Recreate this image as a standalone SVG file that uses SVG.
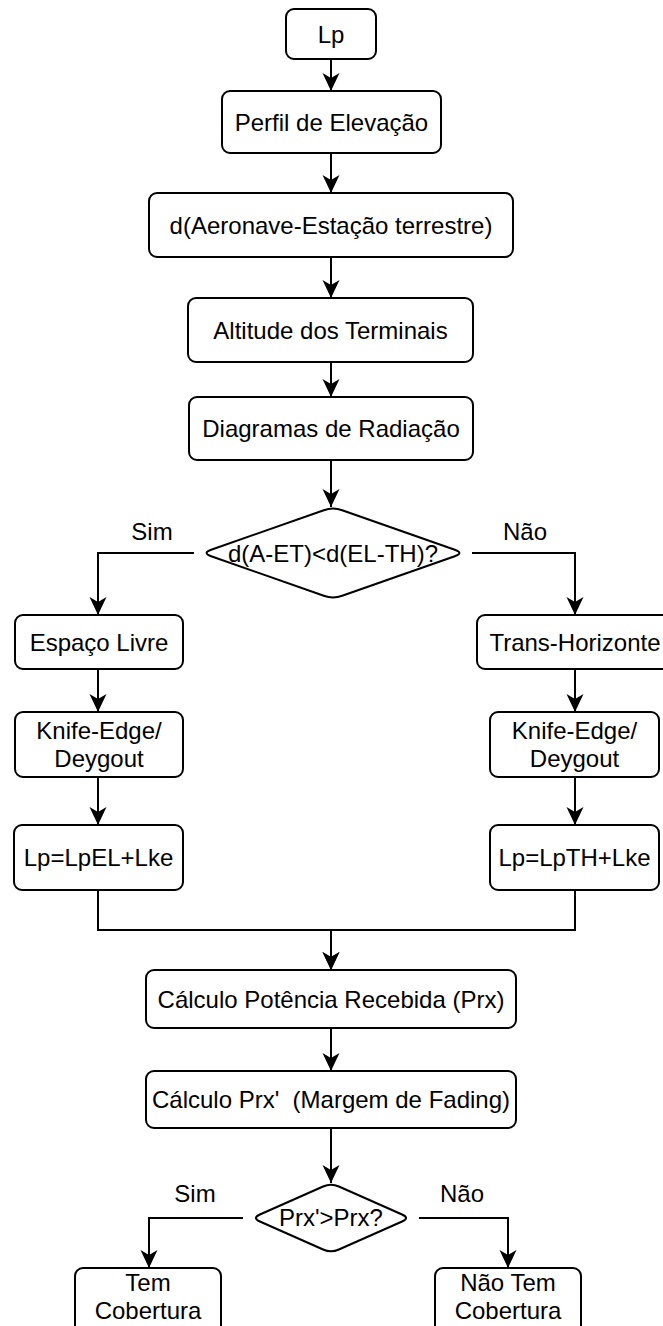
<svg xmlns="http://www.w3.org/2000/svg" width="663" height="1326" viewBox="0 0 663 1326">
<style>
.box{fill:#fff;stroke:#000;stroke-width:2}
.t{font-family:"Liberation Sans",Arial,sans-serif;font-size:24px;fill:#000;text-anchor:middle}
.e{fill:none;stroke:#000;stroke-width:2}
</style>
<defs>
<marker id="arr" markerUnits="userSpaceOnUse" viewBox="0 0 18 18" markerWidth="18" markerHeight="18" refX="18" refY="9" orient="auto">
<path d="M18,9 L0,0.5 L5,9 L0,17.5 Z" fill="#000"/>
</marker>
</defs>
<rect width="663" height="1326" fill="#fff"/>
<g id="connectors">
<path class="e" d="M331,59 V91" marker-end="url(#arr)"/>
<path class="e" d="M331,153 V193" marker-end="url(#arr)"/>
<path class="e" d="M331,257 V298" marker-end="url(#arr)"/>
<path class="e" d="M331,362 V397" marker-end="url(#arr)"/>
<path class="e" d="M331,460 V507" marker-end="url(#arr)"/>
<path class="e" d="M194,553 H98 V615" marker-end="url(#arr)"/>
<path class="e" d="M472,553 H575 V615" marker-end="url(#arr)"/>
<path class="e" d="M98,669 V712" marker-end="url(#arr)"/>
<path class="e" d="M575,669 V712" marker-end="url(#arr)"/>
<path class="e" d="M98,777 V825" marker-end="url(#arr)"/>
<path class="e" d="M575,777 V825" marker-end="url(#arr)"/>
<path class="e" d="M98,890 V930 H331 V970" marker-end="url(#arr)"/>
<path class="e" d="M575,890 V930 H331 V970" marker-end="url(#arr)"/>
<path class="e" d="M331,1028 V1071" marker-end="url(#arr)"/>
<path class="e" d="M331,1128 V1183" marker-end="url(#arr)"/>
<path class="e" d="M243,1218 H149 V1268" marker-end="url(#arr)"/>
<path class="e" d="M419,1218 H508 V1268" marker-end="url(#arr)"/>
<text class="t" x="152" y="540">Sim</text>
<text class="t" x="525" y="540">Não</text>
<text class="t" x="195" y="1202">Sim</text>
<text class="t" x="462" y="1202">Não</text>
</g>
<g id="lp"><rect class="box" x="286" y="9" width="90" height="50" rx="8"/><text class="t" x="331" y="42.5">Lp</text></g>
<g id="perfil"><rect class="box" x="222" y="91" width="219" height="62" rx="8"/><text class="t" x="331.5" y="130.5">Perfil de Elevação</text></g>
<g id="distancia"><rect class="box" x="149" y="193" width="364" height="64" rx="8"/><text class="t" x="331" y="233.5">d(Aeronave-Estação terrestre)</text></g>
<g id="altitude"><rect class="box" x="188" y="298" width="285" height="64" rx="8"/><text class="t" x="330.5" y="338.5">Altitude dos Terminais</text></g>
<g id="diagramas"><rect class="box" x="189" y="397" width="284" height="63" rx="8"/><text class="t" x="331" y="437">Diagramas de Radiação</text></g>
<g id="decisao1"><path class="box" d="M342.2,510.2 L454.8,549.8 Q464,553 454.8,556.2 L342.2,595.8 Q333,599 323.8,595.8 L211.2,556.2 Q202,553 211.2,549.8 L323.8,510.2 Q333,507 342.2,510.2 Z"/><text class="t" x="333" y="562">d(A-ET)&lt;d(EL-TH)?</text></g>
<g id="espaco"><rect class="box" x="15" y="615" width="168" height="54" rx="8"/><text class="t" x="99" y="650.5">Espaço Livre</text></g>
<g id="trans"><rect class="box" x="477" y="615" width="196" height="54" rx="8"/><text class="t" x="575" y="650.5">Trans-Horizonte</text></g>
<g id="knife1"><rect class="box" x="15" y="712" width="168" height="65" rx="8"/><text class="t" x="99" y="738.5">Knife-Edge/</text><text class="t" x="99" y="766.5">Deygout</text></g>
<g id="knife2"><rect class="box" x="490" y="712" width="169" height="65" rx="8"/><text class="t" x="574.5" y="738.5">Knife-Edge/</text><text class="t" x="574.5" y="766.5">Deygout</text></g>
<g id="lpel"><rect class="box" x="14" y="825" width="169" height="65" rx="8"/><text class="t" x="98.5" y="866">Lp=LpEL+Lke</text></g>
<g id="lpth"><rect class="box" x="490" y="825" width="169" height="65" rx="8"/><text class="t" x="574.5" y="866">Lp=LpTH+Lke</text></g>
<g id="potencia"><rect class="box" x="146" y="970" width="370" height="58" rx="8"/><text class="t" x="331" y="1007.5">Cálculo Potência Recebida (Prx)</text></g>
<g id="fading"><rect class="box" x="146" y="1071" width="370" height="57" rx="8"/><text class="t" x="331" y="1108" xml:space="preserve">Cálculo Prx'  (Margem de Fading)</text></g>
<g id="decisao2"><path class="box" d="M338.9,1186.5 L402.1,1214.5 Q410,1218 402.1,1221.5 L338.9,1249.5 Q331,1253 323.1,1249.5 L259.9,1221.5 Q252,1218 259.9,1214.5 L323.1,1186.5 Q331,1183 338.9,1186.5 Z"/><text class="t" x="331" y="1226">Prx'&gt;Prx?</text></g>
<g id="tem"><rect class="box" x="75" y="1268" width="146" height="68" rx="8"/><text class="t" x="148" y="1291">Tem</text><text class="t" x="148" y="1319">Cobertura</text></g>
<g id="naotem"><rect class="box" x="435" y="1268" width="146" height="68" rx="8"/><text class="t" x="508" y="1291">Não Tem</text><text class="t" x="508" y="1319">Cobertura</text></g>
</svg>
